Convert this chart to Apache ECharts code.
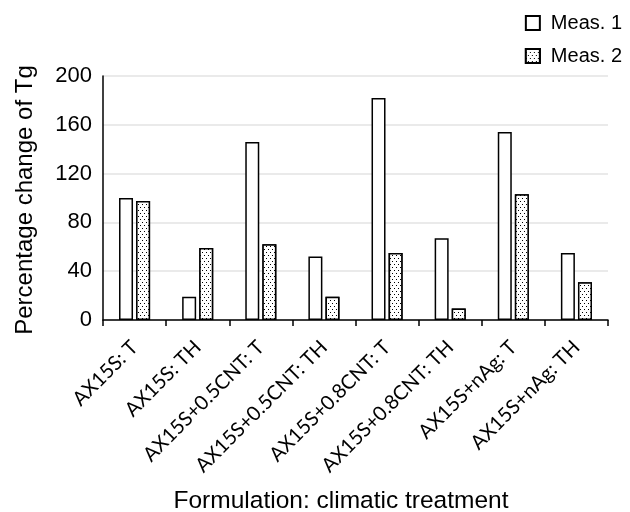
<!DOCTYPE html>
<html>
<head>
<meta charset="utf-8">
<script src="https://cdn.jsdelivr.net/npm/echarts@6/dist/echarts.min.js"></script>
<style>html,body{margin:0;padding:0;background:#fff}#c{width:630px;height:512px}</style>
</head>
<body>
<div id="c"></div>
<script>
var categories = ['AX15S: T','AX15S: TH','AX15S+0.5CNT: T','AX15S+0.5CNT: TH','AX15S+0.8CNT: T','AX15S+0.8CNT: TH','AX15S+nAg: T','AX15S+nAg: TH'];
var meas1 = [100, 19, 146, 52, 182, 67, 154, 55];
var meas2 = [97.5, 59, 62, 19, 55, 9.5, 103, 31];
var yTicks = [0, 40, 80, 120, 160, 200];
var seriesNames = ['Meas. 1', 'Meas. 2'];
var xTitle = 'Formulation: climatic treatment';
var yTitle = 'Percentage change of Tg';

var chart = echarts.init(document.getElementById('c'), null, {renderer: 'canvas'});
var dots = {
  symbol: 'rect', symbolSize: 1, color: '#000', backgroundColor: '#fff',
  dashArrayX: [[1, 3], [0, 2, 1, 1]], dashArrayY: [1, 2], rotation: 0
};
chart.setOption({
  animation: false,
  backgroundColor: '#fff',
  textStyle: {fontFamily: 'Liberation Sans, Arial, sans-serif', color: '#000'},
  grid: {left: 103, right: 22, top: 76, bottom: 192, containLabel: false},
  legend: {
    orient: 'vertical', right: 3, top: 8, icon: 'rect', itemWidth: 14, itemHeight: 14, itemGap: 13,
    itemStyle: {borderWidth: 2},
    textStyle: {fontSize: 20, color: '#000', padding: [0, 0, 0, 6], fontFamily: 'Liberation Sans, Arial, sans-serif'},
    data: seriesNames
  },
  xAxis: {
    type: 'category', data: categories,
    axisLine: {lineStyle: {color: '#000', width: 1.5}},
    axisTick: {show: true, length: 6, lineStyle: {color: '#000', width: 1.5}},
    axisLabel: {rotate: 45, interval: 0, margin: 24, fontSize: 20, color: '#000', fontFamily: 'Lato, sans-serif'}
  },
  yAxis: {
    type: 'value', min: yTicks[0], max: yTicks[yTicks.length - 1], interval: 40,
    axisLine: {show: true, lineStyle: {color: '#000', width: 1.5}},
    axisTick: {show: false},
    axisLabel: {fontSize: 22, color: '#000', margin: 11},
    splitLine: {lineStyle: {color: '#e3e3e3', width: 1.5}}
  },
  graphic: [
    {type: 'text', x: 25, y: 200, rotation: Math.PI / 2,
     style: {text: yTitle, fontSize: 24, fill: '#000', textAlign: 'center', textVerticalAlign: 'middle', fontFamily: 'Liberation Sans, Arial, sans-serif'}},
    {type: 'text', x: 341, y: 501,
     style: {text: xTitle, fontSize: 24.5, fill: '#000', textAlign: 'center', textVerticalAlign: 'middle', fontFamily: 'Liberation Sans, Arial, sans-serif'}}
  ],
  series: [
    {name: seriesNames[0], type: 'bar', data: meas1, barWidth: 14, barGap: '22%',
     itemStyle: {color: '#fff', borderColor: '#000', borderWidth: 1.5}},
    {name: seriesNames[1], type: 'bar', data: meas2, barWidth: 14,
     itemStyle: {color: '#fff', borderColor: '#000', borderWidth: 1.5, decal: dots}}
  ]
});
</script>
</body>
</html>
